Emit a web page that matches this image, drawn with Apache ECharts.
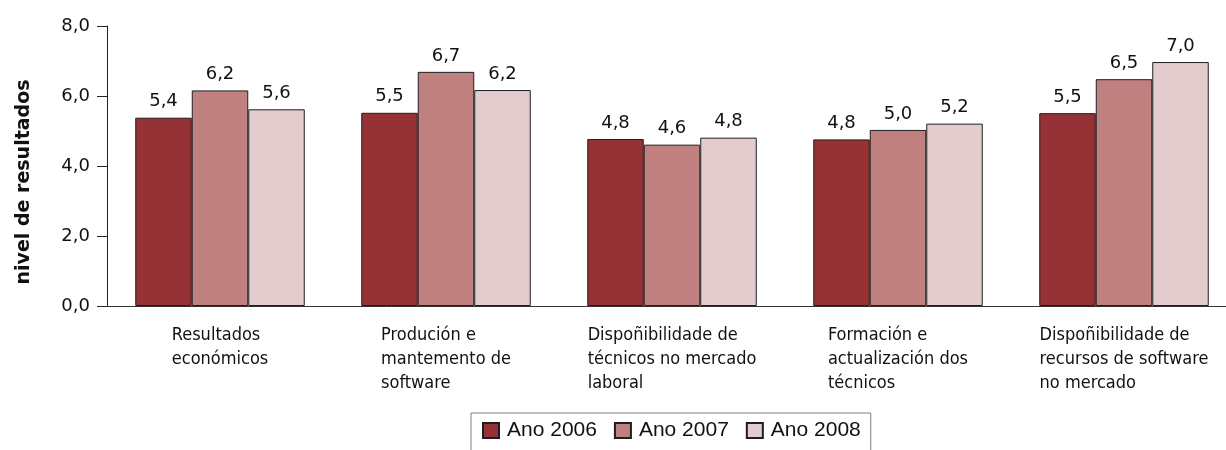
<!DOCTYPE html>
<html><head><meta charset="utf-8">
<script src="https://cdn.jsdelivr.net/npm/echarts@6/dist/echarts.min.js"></script>
<style>html,body{margin:0;padding:0;background:#fff}#c{width:1226px;height:450px}</style>
</head><body><div id="c"></div>
<script>
const categories = [
  'Resultados\neconómicos',
  'Produción e\nmantemento de\nsoftware',
  'Dispoñibilidade de\ntécnicos no mercado\nlaboral',
  'Formación e\nactualización dos\ntécnicos',
  'Dispoñibilidade de\nrecursos de software\nno mercado'
];
const seriesNames = ['Ano 2006', 'Ano 2007', 'Ano 2008'];
const ano2006 = [5.38, 5.52, 4.77, 4.76, 5.51];
const ano2007 = [6.16, 6.69, 4.61, 5.03, 6.48];
const ano2008 = [5.62, 6.17, 4.81, 5.21, 6.97];
const yTicks = [0, 2, 4, 6, 8];
const yAxisTitle = 'nivel de resultados';
const colors = ['#963235', '#c08080', '#e3cccd'];

const fmt = v => Number(v).toFixed(1).replace('.', ',');
const seriesData = [ano2006, ano2007, ano2008];

const chart = echarts.init(document.getElementById('c'), null, {renderer: 'canvas'});
chart.setOption({
  animation: false,
  backgroundColor: '#fff',
  grid: {left: 107, top: 26, width: 1130, height: 280, containLabel: false, outerBoundsMode: 'none'},
  xAxis: {
    type: 'category',
    data: categories,
    axisLine: {lineStyle: {color: '#333', width: 1}},
    axisTick: {alignWithLabel: true, length: 10, lineStyle: {color: '#333'}},
    axisLabel: {
      interval: 0,
      margin: 17,
      formatter: v => v.split('\n').map(l => '{l|' + l + '}').join('\n'),
      rich: {l: {align: 'left', fontFamily: '"DejaVu Sans Condensed", "DejaVu Sans"', fontSize: 18, lineHeight: 24, color: '#111'}}
    }
  },
  yAxis: {
    type: 'value',
    min: yTicks[0], max: yTicks[yTicks.length - 1], interval: 2,
    axisLine: {show: true, lineStyle: {color: '#222', width: 1}},
    axisTick: {show: true, length: 10, lineStyle: {color: '#222'}},
    splitLine: {show: false},
    axisLabel: {formatter: fmt, margin: 17, fontFamily: 'DejaVu Sans', fontSize: 18, color: '#111'}
  },
  legend: {
    data: seriesNames,
    left: 471, top: 413,
    icon: 'rect',
    itemWidth: 16, itemHeight: 15, itemGap: 17,
    padding: [7, 10, 10, 11],
    borderColor: '#808080', borderWidth: 1,
    textStyle: {fontFamily: 'Liberation Sans', fontSize: 21, color: '#111', padding: [0, 0, 0, 3]}
  },
  graphic: [{
    type: 'text', x: 24, y: 182, rotation: Math.PI / 2,
    style: {text: yAxisTitle, font: 'bold 19px "DejaVu Sans"', fill: '#111', align: 'center', verticalAlign: 'middle'}
  }],
  series: seriesData.map((d, i) => ({
    name: seriesNames[i],
    type: 'bar',
    data: d,
    barGap: '0%',
    barCategoryGap: '25%',
    itemStyle: {color: colors[i], borderColor: '#1e1e1e', borderWidth: 1},
    emphasis: {disabled: true},
    label: {show: true, position: 'top', distance: 7, formatter: p => fmt(p.value), fontFamily: 'DejaVu Sans', fontSize: 18, color: '#111'}
  }))
});
</script></body></html>
